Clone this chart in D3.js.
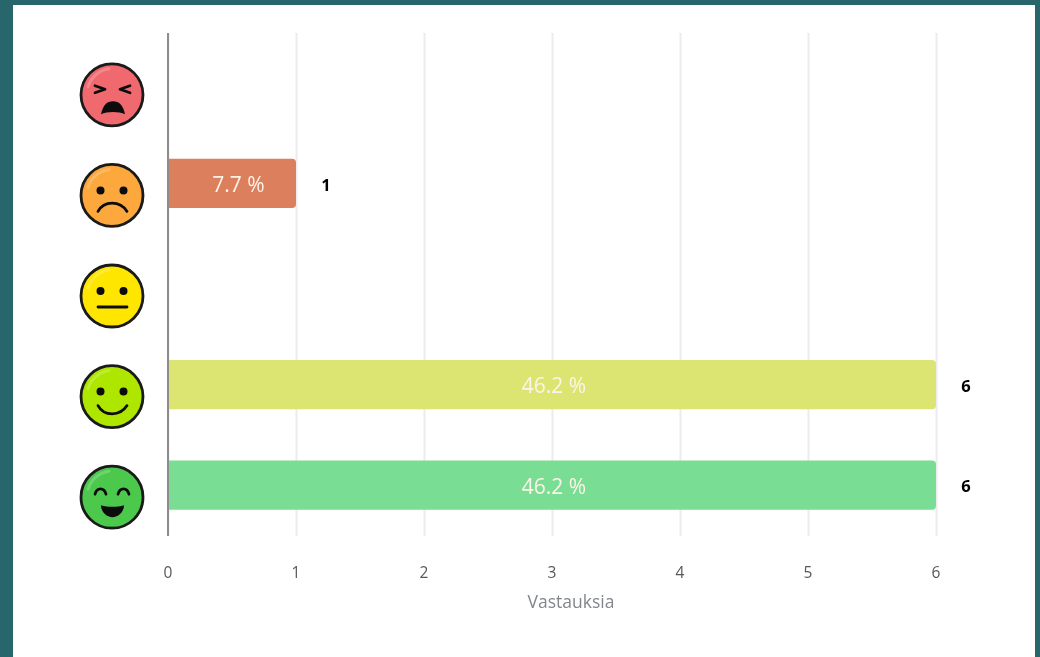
<!DOCTYPE html>
<html>
<head>
<meta charset="utf-8">
<script src="https://cdn.jsdelivr.net/npm/d3@7"></script>
<style>
html, body { margin: 0; padding: 0; background: #27666b; }
svg { display: block; filter: blur(0.5px); }
</style>
</head>
<body>
<div id="chart"></div>
<script>
const moods = ['angry', 'sad', 'neutral', 'happy', 'joyful'];
const counts = [0, 1, 0, 6, 6];
const shares = ['', '7.7 %', '', '46.2 %', '46.2 %'];
const barColors = ['#e0685f', '#dc7f5c', '#e8d85a', '#dde572', '#79de94'];
const faceColors = ['#f0696e', '#fca83c', '#ffe600', '#aee600', '#4cc84c'];
const xTicks = [0, 1, 2, 3, 4, 5, 6];
const axisTitle = 'Vastauksia';

const width = 1040, height = 657;
const margin = {top: 33, right: 104, bottom: 121, left: 168};
const font = '"Open Sans", "Noto Sans", sans-serif';

const svg = d3.select('#chart').append('svg')
    .attr('width', width).attr('height', height)
    .attr('viewBox', `0 0 ${width} ${height}`);

svg.append('rect').attr('width', width).attr('height', height).attr('fill', '#27666b');
svg.append('rect').attr('x', 13).attr('y', 5)
    .attr('width', 1022).attr('height', 652).attr('fill', '#ffffff');

const xScale = d3.scaleLinear().domain([0, 6]).range([margin.left, width - margin.right]);
const yScale = d3.scaleBand().domain(moods)
    .range([margin.top, height - margin.bottom]).paddingInner(0.51).paddingOuter(0.255);

// gridlines and tick labels both come from the bottom axis
const xAxis = d3.axisBottom(xScale).tickValues(xTicks).tickFormat(d3.format('d'))
    .tickSize(-(height - margin.top - margin.bottom)).tickPadding(31);
const axisG = svg.append('g')
    .attr('transform', `translate(0,${height - margin.bottom})`).call(xAxis);
axisG.select('.domain').remove();
axisG.selectAll('.tick line').attr('stroke', '#ebebf0').attr('stroke-width', 2);
axisG.selectAll('.tick text').attr('fill', '#55595d').attr('dx', -0.5)
    .style('font-family', font).style('font-size', '15.5px');

// bars, rounded on the right end only
const barPath = d => {
    const x0 = xScale(0), x1 = xScale(d.value), y0 = yScale(d.mood) - 0.5, h = yScale.bandwidth(), r = 4;
    return `M${x0},${y0}H${x1 - r}Q${x1},${y0} ${x1},${y0 + r}V${y0 + h - r}Q${x1},${y0 + h} ${x1 - r},${y0 + h}H${x0}Z`;
};
const rows = moods.map((mood, i) => ({mood, value: counts[i], share: shares[i], color: barColors[i], face: faceColors[i]}));
const filled = rows.filter(d => d.value > 0);

svg.append('g').selectAll('path').data(filled).join('path')
    .attr('d', barPath).attr('fill', d => d.color);

svg.append('g').selectAll('text').data(filled).join('text')
    .attr('x', d => xScale(d.value / 2) + (d.value < 2 ? 6.5 : 2))
    .attr('y', d => yScale(d.mood) + yScale.bandwidth() / 2 + 1)
    .attr('dy', '0.35em').attr('text-anchor', 'middle')
    .attr('fill', '#fdf3e8').style('font-family', font).style('font-size', '21px')
    .text(d => d.share);

svg.append('g').selectAll('text').data(filled).join('text')
    .attr('x', d => xScale(d.value) + 30)
    .attr('y', d => yScale(d.mood) + yScale.bandwidth() / 2 + 1)
    .attr('dy', '0.35em').attr('text-anchor', 'middle')
    .attr('fill', '#000000').style('font-family', font)
    .style('font-size', '16.5px').style('font-weight', 700)
    .text(d => d.value);

// vertical zero line sits above the bars
svg.append('line')
    .attr('x1', xScale(0)).attr('x2', xScale(0))
    .attr('y1', margin.top).attr('y2', height - margin.bottom)
    .attr('stroke', '#8c8c8c').attr('stroke-width', 2);

svg.append('text').attr('x', 571).attr('y', 602).attr('dy', '0.35em')
    .attr('text-anchor', 'middle').attr('fill', '#83878b')
    .style('font-family', font).style('font-size', '17.5px').text(axisTitle);

// smiley icons, drawn around each row's own centre
const faces = svg.append('g').selectAll('g').data(rows).join('g')
    .attr('transform', d => `translate(112,${yScale(d.mood) + yScale.bandwidth() / 2 + 11.5})`);
faces.append('circle').attr('r', 31).attr('fill', d => d.face)
    .attr('stroke', '#1a1a1a').attr('stroke-width', 2.8);
faces.append('path').attr('d', 'M-24,-8A26,26 0 0 1 -3,-26').attr('fill', 'none')
    .attr('stroke', '#ffffff').attr('stroke-opacity', 0.2).attr('stroke-width', 3).attr('stroke-linecap', 'round');

const ink = '#0c0c0c';
const eyes = g => {
    g.append('circle').attr('cx', -11.5).attr('cy', -5).attr('r', 4).attr('fill', ink);
    g.append('circle').attr('cx', 11.5).attr('cy', -5).attr('r', 4).attr('fill', ink);
};
const stroke = (g, d, w = 2.8) => g.append('path').attr('d', d).attr('fill', 'none')
    .attr('stroke', ink).attr('stroke-width', w).attr('stroke-linecap', 'round').attr('stroke-linejoin', 'round');

const angry = faces.filter(d => d.mood === 'angry');
stroke(angry, 'M-17,-9L-7,-5.5L-17,-2');
stroke(angry, 'M18,-9L8,-5.5L18,-2');
angry.append('path').attr('d', 'M-11,19.5C-9,10 -5,6.5 1,6.5C7,6.5 11,10 13,19.5C7,16.5 -5,16.5 -11,19.5Z').attr('fill', ink);

const sad = faces.filter(d => d.mood === 'sad');
eyes(sad);
stroke(sad, 'M-14,16C-8,5 8,5 15,16');

const neutral = faces.filter(d => d.mood === 'neutral');
eyes(neutral);
stroke(neutral, 'M-14,11H15');

const happy = faces.filter(d => d.mood === 'happy');
eyes(happy);
stroke(happy, 'M-14,9C-8,20 8,20 15,9');

const joyful = faces.filter(d => d.mood === 'joyful');
stroke(joyful, 'M-17,-3C-15,-10 -8,-10 -6,-3');
stroke(joyful, 'M6,-3C8,-10 15,-10 17,-3');
joyful.append('path').attr('d', 'M-11,8C-4,10 5,10 12,8C12,15 6,20 0.5,20C-5,20 -11,15 -11,8Z').attr('fill', ink);
</script>
</body>
</html>
